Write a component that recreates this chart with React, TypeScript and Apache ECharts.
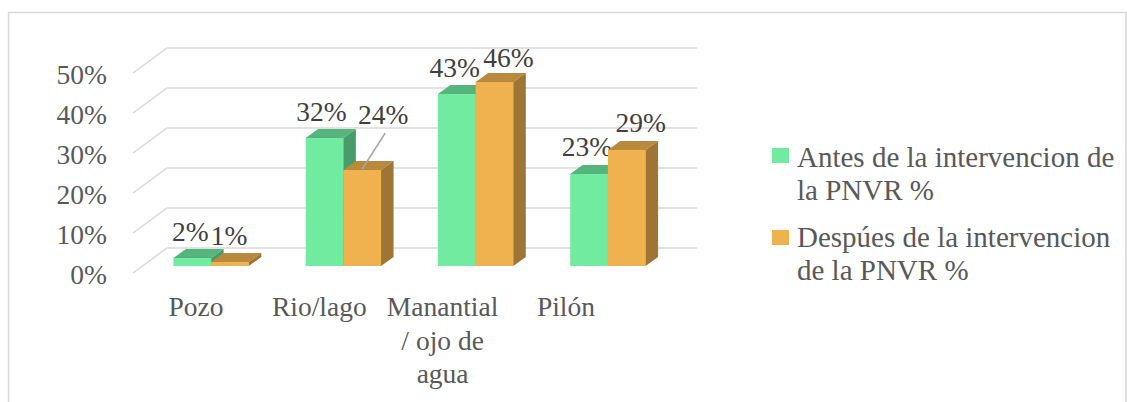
import React, { useEffect, useRef } from 'react';
import * as echarts from 'echarts';

const categories = ['Pozo', 'Rio/lago', 'Manantial / ojo de agua', 'Pilón'];
const seriesNames = ['Antes de la intervencion de la PNVR %', 'Despúes de la intervencion de la PNVR %'];
const antes = [2, 32, 43, 23];
const despues = [1, 24, 46, 29];
const yTicks = [0, 10, 20, 30, 40, 50];

const FONT = "'Liberation Serif', 'Times New Roman', serif";
const DX = 12.5;
const DY = -9;

const palettes = [
  { front: '#71EBA0', top: '#55B57D', side: '#489C69' },
  { front: '#EFB24F', top: '#B98A3E', side: '#9E7535' },
];

// label nudges (styling, relative to the bar's front-top centre)
const labelNudges = [
  [[-2, -27], [-3, -27], [-2, -27], [-2, -28]],
  [[-1, -27], [21, -56], [14, -25], [14, -28]],
];
const leaderLines = [[], [1]];

function wrapCategory(v: string) {
  return v.replace('Manantial / ', 'Manantial\n/ ').replace('de agua', 'de\nagua');
}

function makeBarRenderer(k: number) {
  return (params: any, api: any) => {
    const i = api.value(0);
    const v = api.value(1);
    const base = api.coord([i, 0]);
    const top = api.coord([i, v]);
    const band = api.size([1, 0])[0];
    const w = band * 0.285;
    const x0 = k === 0 ? base[0] - w : base[0];
    const x1 = x0 + w;
    const y0 = base[1];
    const y1 = top[1];
    const p = palettes[k];
    const children: any[] = [
      { type: 'rect', shape: { x: x0, y: y1, width: w, height: y0 - y1 }, style: { fill: p.front } },
      {
        type: 'polygon',
        shape: { points: [[x0, y1], [x0 + DX, y1 + DY], [x1 + DX, y1 + DY], [x1, y1]] },
        style: { fill: p.top },
      },
      {
        type: 'polygon',
        shape: { points: [[x1, y1], [x1 + DX, y1 + DY], [x1 + DX, y0 + DY], [x1, y0]] },
        style: { fill: p.side },
      },
    ];
    const off = labelNudges[k][i];
    const cx = (x0 + x1) / 2;
    const lx = cx + off[0];
    const ly = y1 + off[1];
    if (leaderLines[k].indexOf(i) >= 0) {
      children.push({
        type: 'line',
        shape: { x1: lx + 2, y1: ly + 19, x2: cx, y2: y1 - 1 },
        style: { stroke: '#a6a6a6', lineWidth: 1.5 },
      });
    }
    children.push({
      type: 'text',
      style: {
        text: v + '%',
        x: lx,
        y: ly,
        align: 'center',
        verticalAlign: 'middle',
        fontSize: 27.5,
        fontFamily: FONT,
        fill: '#404040',
      },
    });
    return { type: 'group', children };
  };
}

export default function App() {
  const ref = useRef<HTMLDivElement>(null);
  useEffect(() => {
    if (!ref.current) return;
    const chart = echarts.init(ref.current, null, { renderer: 'svg' });
    const option: any = {
      animation: false,
      backgroundColor: '#ffffff',
      textStyle: { fontFamily: FONT },
      grid: [
        { left: 145, width: 529, top: 66, height: 200 },
        { left: 134.3, width: 493.3, top: 66, height: 200 },
      ],
      xAxis: [
        { type: 'category', gridIndex: 0, data: categories, show: false },
        {
          type: 'category',
          gridIndex: 1,
          data: categories,
          axisLine: { show: false },
          axisTick: { show: false },
          axisLabel: {
            interval: 0,
            margin: 24,
            fontSize: 27.5,
            lineHeight: 33.5,
            fontFamily: FONT,
            color: '#595959',
            formatter: wrapCategory,
          },
        },
      ],
      yAxis: [
        {
          type: 'value',
          gridIndex: 0,
          min: 0,
          max: 50,
          interval: 10,
          splitLine: { show: false },
          axisLine: { show: false },
          axisTick: { show: false },
          axisLabel: {
            formatter: '{value}%',
            margin: 38,
            fontSize: 27.5,
            fontFamily: FONT,
            color: '#595959',
            verticalAlign: 'top',
            lineHeight: 16,
          },
        },
        { type: 'value', gridIndex: 1, min: 0, max: 50, show: false },
      ],
      graphic: [
        {
          type: 'rect',
          shape: { x: 8.5, y: 12.5, width: 1117.5, height: 400 },
          style: { fill: 'none', stroke: '#d9d9d9', lineWidth: 1.5 },
          silent: true,
        },
        { type: 'rect', shape: { x: 772, y: 148, width: 17, height: 15 }, style: { fill: palettes[0].front } },
        {
          type: 'text',
          style: {
            text: 'Antes de la intervencion de\nla PNVR %',
            x: 797,
            y: 140,
            fontSize: 29,
            fontFamily: FONT,
            lineHeight: 33.5,
            fill: '#595959',
            verticalAlign: 'top',
          },
        },
        { type: 'rect', shape: { x: 772, y: 230, width: 17, height: 15 }, style: { fill: palettes[1].front } },
        {
          type: 'text',
          style: {
            text: 'Despúes de la intervencion\nde la PNVR %',
            x: 797,
            y: 220,
            fontSize: 29,
            fontFamily: FONT,
            lineHeight: 33.5,
            fill: '#595959',
            verticalAlign: 'top',
          },
        },
      ],
      series: [
        {
          type: 'custom',
          name: 'grid',
          xAxisIndex: 0,
          yAxisIndex: 0,
          silent: true,
          z: 1,
          data: yTicks.map((v) => [0, v]),
          renderItem: (params: any, api: any) => {
            const v = api.value(1);
            const a = api.coord([0, v]);
            const b = api.coord([categories.length - 1, v]);
            const band = api.size([1, 0])[0];
            const left = a[0] - band / 2;
            const right = b[0] + band / 2;
            const y = a[1];
            return {
              type: 'polyline',
              shape: { points: [[left - 12, y + 7], [left + 22, y - 18], [right + 23, y - 18]] },
              style: { stroke: '#d9d9d9', lineWidth: 1.5, fill: null },
            };
          },
        },
        {
          type: 'custom',
          name: seriesNames[0],
          xAxisIndex: 0,
          yAxisIndex: 0,
          z: 2,
          data: antes.map((v, i) => [i, v]),
          renderItem: makeBarRenderer(0),
        },
        {
          type: 'custom',
          name: seriesNames[1],
          xAxisIndex: 0,
          yAxisIndex: 0,
          z: 3,
          data: despues.map((v, i) => [i, v]),
          renderItem: makeBarRenderer(1),
        },
      ],
    };
    chart.setOption(option);
    return () => chart.dispose();
  }, []);
  return <div ref={ref} style={{ position: 'fixed', left: 0, top: 0, width: 1127, height: 402 }} />;
}
